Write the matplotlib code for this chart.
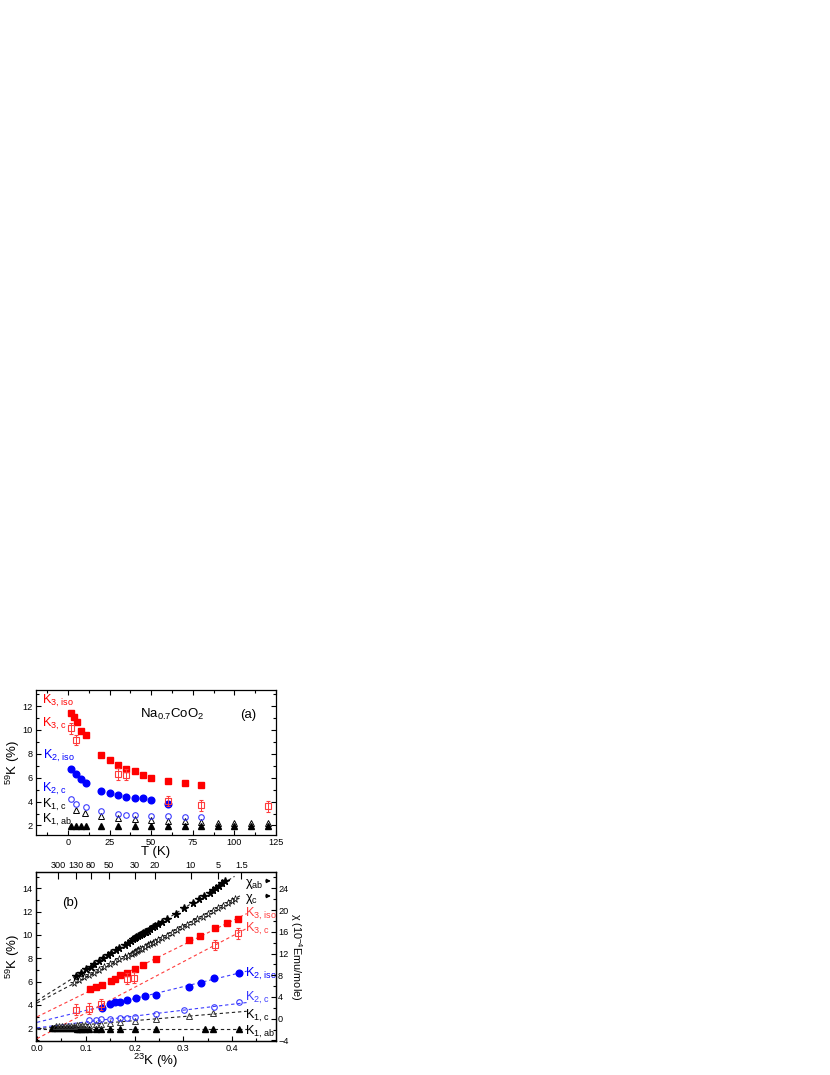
import matplotlib
matplotlib.use('Agg')
import matplotlib.pyplot as plt
from matplotlib.ticker import MultipleLocator

plt.rcParams['font.family'] = ['Liberation Sans', 'DejaVu Sans']
plt.rcParams['mathtext.fontset'] = 'custom'
plt.rcParams['mathtext.rm'] = 'Liberation Sans'
plt.rcParams['mathtext.it'] = 'Liberation Sans:italic'
plt.rcParams['mathtext.bf'] = 'Liberation Sans:bold'

# ---------------- Panel (a): 59K vs T ----------------
T_K3iso = [1.5, 3.5, 5.5, 8, 10.5, 20, 25, 30, 35, 40, 45, 50, 60, 70, 80]
K3iso = [11.39, 11.05, 10.63, 9.92, 9.56, 7.94, 7.46, 7.04, 6.76, 6.56, 6.20, 6.01, 5.70, 5.56, 5.36]
T_K3c = [1.5, 5, 30, 35, 60, 80, 120]
K3c = [10.13, 9.14, 6.34, 6.26, 4.04, 3.68, 3.59]
K3c_err = [0.45, 0.42, 0.5, 0.45, 0.45, 0.45, 0.45]
T_K2iso = [1.5, 5, 8, 10.5, 20, 25, 30, 35, 40, 45, 50, 60]
K2iso = [6.76, 6.34, 5.87, 5.56, 4.86, 4.72, 4.58, 4.38, 4.27, 4.27, 4.10, 3.76]
T_K2c = [1.5, 5, 11, 20, 30, 35, 40, 50, 60, 70, 80]
K2c = [4.24, 3.82, 3.54, 3.20, 2.92, 2.84, 2.84, 2.76, 2.76, 2.70, 2.70]
T_K1c = [5, 10, 20, 30, 40, 50, 60, 70, 80, 90, 100, 110, 120]
K1c = [3.26, 3.03, 2.76, 2.61, 2.50, 2.48, 2.39, 2.34, 2.28, 2.23, 2.23, 2.23, 2.23]
T_K1ab = [1.5, 5, 8, 10.5, 20, 30, 40, 50, 60, 70, 80, 90, 100, 110, 120]
K1ab = [1.95, 1.95, 1.95, 1.95, 1.95, 1.95, 1.95, 1.95, 1.95, 1.95, 1.95, 1.95, 1.95, 1.95, 1.95]

# ---------------- Panel (b): 59K vs 23K ----------------
x_K3iso = [0.413, 0.390, 0.364, 0.335, 0.312, 0.244, 0.218, 0.200, 0.185, 0.171, 0.160, 0.151, 0.133, 0.121, 0.109]
x_K3c = [0.4125, 0.364, 0.199, 0.185, 0.131, 0.107, 0.081]
x_K2iso = [0.415, 0.3625, 0.336, 0.312, 0.244, 0.221, 0.202, 0.185, 0.171, 0.160, 0.149, 0.133]
x_K2c = [0.415, 0.3625, 0.301, 0.244, 0.200, 0.185, 0.171, 0.149, 0.131, 0.120, 0.107]
x_K1c = [0.360, 0.312, 0.244, 0.200, 0.171, 0.149, 0.131, 0.120, 0.107, 0.098, 0.092, 0.087, 0.082,
         0.076, 0.070, 0.064, 0.058, 0.052, 0.046, 0.040]
K1c_b = [3.26, 3.03, 2.76, 2.61, 2.50, 2.48, 2.39, 2.34, 2.28, 2.23, 2.23, 2.23, 2.23,
         2.21, 2.20, 2.19, 2.18, 2.17, 2.16, 2.15]
x_K1ab = [0.415, 0.360, 0.345, 0.244, 0.200, 0.171, 0.149, 0.131, 0.120, 0.107, 0.098, 0.092, 0.087, 0.082,
          0.077, 0.071, 0.065, 0.059, 0.053, 0.047, 0.041, 0.035, 0.030]
K1ab_b = [1.93, 1.93, 1.93, 1.93, 1.93, 1.93, 1.94, 1.94, 1.95, 1.95, 1.96, 1.96, 1.97, 1.97,
          1.98, 1.98, 1.99, 1.99, 2.00, 2.00, 2.01, 2.01, 2.02]

# susceptibility (right axis, 1e-4 emu/mole) vs 23K
x_chiab = [0.079, 0.090, 0.100, 0.110, 0.117, 0.128, 0.135, 0.145, 0.152, 0.163, 0.169, 0.180, 0.187,
           0.192, 0.197, 0.201, 0.204, 0.208, 0.211, 0.215, 0.218, 0.221, 0.223, 0.227, 0.232, 0.237,
           0.242, 0.249, 0.256, 0.267, 0.284, 0.301, 0.319, 0.333, 0.343, 0.354, 0.360, 0.367, 0.374,
           0.380, 0.385]
chi_ab = [7.9, 8.5, 9.1, 9.6, 10.0, 10.6, 11.2, 11.7, 12.1, 12.6, 13.0, 13.6, 14.0,
          14.3, 14.6, 14.8, 15.0, 15.2, 15.4, 15.6, 15.8, 15.9, 16.0, 16.2, 16.5, 16.8,
          17.0, 17.4, 17.8, 18.4, 19.3, 20.3, 21.3, 22.1, 22.6, 23.2, 23.6, 24.0, 24.5,
          24.9, 25.4]
x_chic = [0.076, 0.086, 0.096, 0.107, 0.117, 0.128, 0.138, 0.149, 0.159, 0.169, 0.180, 0.187, 0.194,
          0.198, 0.201, 0.205, 0.208, 0.212, 0.215, 0.221, 0.227, 0.232, 0.237, 0.242, 0.249, 0.256,
          0.267, 0.277, 0.288, 0.298, 0.308, 0.319, 0.329, 0.340, 0.350, 0.360, 0.371, 0.381, 0.392,
          0.399, 0.406]
chi_c = [6.6, 7.1, 7.6, 8.1, 8.5, 9.0, 9.5, 10.0, 10.4, 10.9, 11.3, 11.6, 11.9,
         12.1, 12.3, 12.4, 12.6, 12.8, 12.9, 13.2, 13.5, 13.7, 13.9, 14.1, 14.5, 14.8,
         15.3, 15.8, 16.3, 16.8, 17.3, 17.8, 18.3, 18.8, 19.3, 19.8, 20.3, 20.8, 21.3,
         21.6, 22.0]

# linear fit lines (endpoints) in panel (b)
fit_x = [0.0, 0.43]
fit_K3iso = [2.97, 11.83]
fit_K3c = [1.10, 10.56]
fit_K2iso = [2.50, 6.89]
fit_K2c = [2.03, 4.20]
fit_K1c = [1.95, 3.45]
fit_K1ab = [1.93, 1.93]
fit_chiab_x = [0.0, 0.405]
fit_chiab = [3.3, 26.2]
fit_chic_x = [0.0, 0.416]
fit_chic = [2.9, 22.6]

# top axis (temperature) of panel (b)
top_pos = [0.044, 0.079, 0.110, 0.148, 0.200, 0.242, 0.315, 0.371, 0.419]
top_lab = ['300', '130', '80', '50', '30', '20', '10', '5', '1.5']

RED = '#ff0000'
LRED = '#ff3c3c'
BLUE = '#0000ff'
LBLUE = '#3c3cff'
BLK = 'black'

W, H = 830, 1075
fig = plt.figure(figsize=(W / 100, H / 100), dpi=100)
axa = fig.add_axes([36 / W, 1 - 835 / H, 240 / W, 145 / H])
axb = fig.add_axes([36 / W, 1 - 1041 / H, 240 / W, 169 / H])

TICKFS = 6.6
for ax in (axa, axb):
    for s in ax.spines.values():
        s.set_linewidth(0.9)

# ---------------- panel a ----------------
ms_sq, ms_ci, ms_oc, ms_tr = 4.3, 4.8, 4.0, 3.8
axa.plot(T_K1ab, K1ab, '^', color=BLK, ms=ms_tr, ls='none')
axa.plot(T_K1c, K1c, '^', mfc='none', mec=BLK, mew=0.7, ms=ms_tr, ls='none')
axa.plot(T_K2c, K2c, 'o', mfc='none', mec=LBLUE, mew=0.8, ms=ms_oc, ls='none')
axa.plot(T_K2iso, K2iso, 'o', color=BLUE, ms=ms_ci, ls='none')
axa.plot(T_K3iso, K3iso, 's', color=RED, ms=ms_sq, ls='none')
axa.errorbar(T_K3c, K3c, yerr=K3c_err, fmt='s', mfc='none', mec=LRED, ecolor=LRED,
             mew=0.8, ms=ms_sq, elinewidth=0.7, capsize=1.5, capthick=0.7)

axa.set_xlim(-19.3, 125)
axa.set_ylim(1.2, 13.35)
axa.xaxis.set_major_locator(MultipleLocator(25))
axa.xaxis.set_minor_locator(MultipleLocator(12.5))
axa.yaxis.set_major_locator(MultipleLocator(2))
axa.yaxis.set_minor_locator(MultipleLocator(1))
axa.tick_params(which='both', direction='in', top=True, right=True, width=0.8, labelsize=TICKFS, pad=2.5)
axa.tick_params(which='major', length=3.5)
axa.tick_params(which='minor', length=2)
axa.set_xlabel('T (K)', fontsize=9.5, labelpad=-1)
axa.set_ylabel('$^{59}$K (%)', fontsize=9.5, labelpad=0)

tr = axa.transAxes
fsl = 9.2
axa.text(0.025, 0.903, 'K$_{\\mathrm{3,\\,iso}}$', color=RED, fontsize=fsl, transform=tr)
axa.text(0.025, 0.745, 'K$_{\\mathrm{3,\\,c}}$', color=RED, fontsize=fsl, transform=tr)
axa.text(0.03, 0.524, 'K$_{\\mathrm{2,\\,iso}}$', color=BLUE, fontsize=fsl, transform=tr)
axa.text(0.025, 0.297, 'K$_{\\mathrm{2,\\,c}}$', color=BLUE, fontsize=fsl, transform=tr)
axa.text(0.025, 0.185, 'K$_{\\mathrm{1,\\,c}}$', color=BLK, fontsize=fsl, transform=tr)
axa.text(0.025, 0.088, 'K$_{\\mathrm{1,\\,ab}}$', color=BLK, fontsize=fsl, transform=tr)
axa.text(0.433, 0.807, 'Na$_{\\mathrm{0.7}}$CoO$_{\\mathrm{2}}$', fontsize=9.5, transform=tr)
axa.text(0.85, 0.807, '(a)', fontsize=9.5, transform=tr)

# ---------------- panel b ----------------
dash = (3, 2.5)
lw = 0.8
axb.plot(fit_x, fit_K1ab, '--', color='#222222', lw=lw, dashes=dash)
axb.plot(fit_x, fit_K1c, '--', color='#222222', lw=lw, dashes=dash)
axb.plot(fit_x, fit_K2c, '--', color=LBLUE, lw=lw, dashes=dash)
axb.plot(fit_x, fit_K2iso, '--', color=LBLUE, lw=lw, dashes=dash)
axb.plot(fit_x, fit_K3c, '--', color=LRED, lw=lw, dashes=dash)
axb.plot(fit_x, fit_K3iso, '--', color=LRED, lw=lw, dashes=dash)

axb.plot(x_K1ab, K1ab_b, '^', color=BLK, ms=ms_tr, ls='none')
axb.plot(x_K1c, K1c_b, '^', mfc='none', mec='#333333', mew=0.7, ms=ms_tr, ls='none')
axb.plot(x_K2c, K2c, 'o', mfc='none', mec=LBLUE, mew=0.8, ms=ms_oc, ls='none')
axb.plot(x_K2iso, K2iso, 'o', color=BLUE, ms=ms_ci, ls='none')
axb.plot(x_K3iso, K3iso, 's', color=RED, ms=ms_sq, ls='none')
axb.errorbar(x_K3c, K3c, yerr=K3c_err, fmt='s', mfc='none', mec=LRED, ecolor=LRED,
             mew=0.8, ms=ms_sq, elinewidth=0.7, capsize=1.5, capthick=0.7)

axb.set_xlim(-0.002, 0.49)
axb.set_ylim(0.9, 15.4)
axb.xaxis.set_major_locator(MultipleLocator(0.1))
axb.xaxis.set_minor_locator(MultipleLocator(0.05))
axb.yaxis.set_major_locator(MultipleLocator(2))
axb.yaxis.set_minor_locator(MultipleLocator(1))
axb.xaxis.set_major_formatter(plt.FuncFormatter(lambda v, p: f'{v:.1f}'))
axb.tick_params(which='both', direction='in', width=0.8, labelsize=TICKFS, pad=2.5)
axb.tick_params(which='major', length=3.5)
axb.tick_params(which='minor', length=2)
axb.set_xlabel('$^{23}$K (%)', fontsize=9.5, labelpad=-1)
axb.set_ylabel('$^{59}$K (%)', fontsize=9.5, labelpad=0)

# right axis: susceptibility
axr = axb.twinx()
axr.plot(fit_chiab_x, fit_chiab, '--', color='#222222', lw=lw, dashes=dash)
axr.plot(fit_chic_x, fit_chic, '--', color='#222222', lw=lw, dashes=dash)
axr.plot(x_chic, chi_c, '*', mfc='white', mec=BLK, mew=0.5, ms=5.5, ls='none')
axr.plot(x_chiab, chi_ab, '*', color=BLK, ms=5.5, ls='none')
axr.set_ylim(-4.1, 27)
axr.yaxis.set_major_locator(MultipleLocator(4))
axr.yaxis.set_minor_locator(MultipleLocator(2))
axr.tick_params(which='both', direction='in', width=0.8, labelsize=TICKFS, pad=1.5)
axr.tick_params(which='major', length=3.5)
axr.tick_params(which='minor', length=2)
axr.set_ylabel('χ (10$^{-4}$Emu/mole)', fontsize=7.8, rotation=270, labelpad=11)

# top axis: temperature
axt = axb.twiny()
axt.set_xlim(axb.get_xlim())
axt.set_xticks(top_pos)
axt.set_xticklabels(top_lab)
axt.xaxis.set_minor_locator(plt.NullLocator())
axt.tick_params(direction='in', length=5, width=0.8, labelsize=TICKFS, pad=1.5)

trb = axb.transAxes
xl = 0.872
axb.text(xl, 0.917, 'χ$_{\\mathrm{ab}}$', color=BLK, fontsize=fsl, transform=trb)
axb.text(xl, 0.828, 'χ$_{\\mathrm{c}}$', color=BLK, fontsize=fsl, transform=trb)
for yy in (0.947, 0.858):
    axb.annotate('', xy=(0.99, yy), xytext=(0.945, yy), xycoords=trb, textcoords=trb,
                 arrowprops=dict(arrowstyle='-|>', color=BLK, lw=0.8, mutation_scale=6))
axb.text(xl, 0.734, 'K$_{\\mathrm{3,\\,iso}}$', color=LRED, fontsize=fsl, transform=trb)
axb.text(xl, 0.645, 'K$_{\\mathrm{3,\\,c}}$', color=LRED, fontsize=fsl, transform=trb)
axb.text(xl, 0.379, 'K$_{\\mathrm{2,\\,iso}}$', color=BLUE, fontsize=fsl, transform=trb)
axb.text(xl, 0.237, 'K$_{\\mathrm{2,\\,c}}$', color=LBLUE, fontsize=fsl, transform=trb)
axb.text(xl, 0.130, 'K$_{\\mathrm{1,\\,c}}$', color=BLK, fontsize=fsl, transform=trb)
axb.text(xl, 0.036, 'K$_{\\mathrm{1,\\,ab}}$', color=BLK, fontsize=fsl, transform=trb)
axb.text(0.107, 0.80, '(b)', fontsize=9.5, transform=trb)

fig.savefig('out.png', dpi=100)
